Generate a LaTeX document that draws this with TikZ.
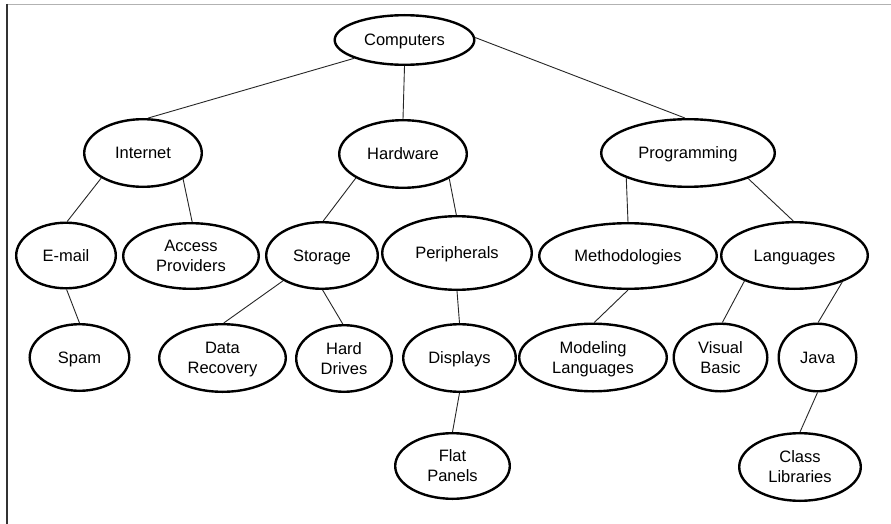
\documentclass[tikz,border=0pt]{standalone}
\usepackage{fontspec}
\setmainfont{Liberation Sans}
\usetikzlibrary{shapes.geometric}

\tikzset{
  topic/.style={ellipse, draw=black, line width=2.4pt, fill=white, inner sep=0pt,
    align=center, font=\fontsize{16.5}{20}\selectfont,
    text height=11.8pt, text depth=0.3pt},
  % two-line labels: cap height of the first line plus one line of spacing
  pair/.style={text height=31.8pt, text depth=0.3pt},
  % size of a topic ellipse from its half axes
  axes/.style 2 args={minimum width={2*#1 pt-2.4pt}, minimum height={2*#2 pt-2.4pt}},
  link/.style={draw=black!85, line width=0.9pt},
}

\begin{document}
\begin{tikzpicture}[x=1pt,y=-1pt]
  \useasboundingbox (0,0) rectangle (891,524);
  \fill[white] (0,0) rectangle (891,524);

  % window edge
  \draw[black!30, line width=1.4pt] (7,4.5) -- (891,4.5);
  \draw[black!80, line width=1.6pt] (7,4) -- (7,524);

  % level 0
  \node[topic, axes={71}{26}] (comp) at (404.5,40) {Computers};
  % level 1
  \node[topic, axes={60}{35}] (inet) at (143,153) {Internet};
  \node[topic, axes={65}{35}] (hard) at (403,154) {Hardware};
  \node[topic, axes={88}{35}] (prog) at (688,153) {Programming};
  % level 2
  \node[topic, axes={51}{34}] (mail) at (66,255.5) {E-mail};
  \node[topic, pair, axes={69}{34}] (acc) at (191,256) {Access\\Providers};
  \node[topic, axes={57}{34.5}] (stor) at (322,255.5) {Storage};
  \node[topic, axes={76}{38}] (peri) at (457,253) {Peripherals};
  \node[topic, axes={90}{34}] (meth) at (628,256) {Methodologies};
  \node[topic, axes={74.5}{34.5}] (lang) at (794.5,255.5) {Languages};
  % level 3
  \node[topic, axes={51}{34.5}] (spam) at (79.5,357.5) {Spam};
  \node[topic, pair, axes={64.5}{35}] (drec) at (222.5,358) {Data\\Recovery};
  \node[topic, pair, axes={49}{34.5}] (hdd) at (344,358.5) {Hard\\Drives};
  \node[topic, axes={57.5}{35}] (disp) at (459.5,358) {Displays};
  \node[topic, pair, axes={75}{35}] (model) at (593,357.5) {Modeling\\Languages};
  \node[topic, pair, axes={48}{35}] (vb) at (720.5,357.5) {Visual\\Basic};
  \node[topic, axes={40}{35}] (java) at (817.5,357.5) {Java};
  % level 4
  \node[topic, pair, axes={58.5}{34}] (flat) at (452.5,466) {Flat\\Panels};
  \node[topic, pair, axes={62}{35}] (clib) at (800,467) {Class\\Libraries};

  % connectors
  \draw[link] (comp.200) -- (inet.82);
  \draw[link] (comp.270) -- (hard.90);
  \draw[link] (comp.2) -- (prog.95);

  \draw[link] (inet.211) -- (mail.88);
  \draw[link] (inet.327) -- (acc.88);
  \draw[link] (hard.207) -- (stor.88);
  \draw[link] (hard.332) -- (peri.91);
  \draw[link] (prog.202) -- (meth.90);
  \draw[link] (prog.337) -- (lang.92);

  \draw[link] (mail.271) -- (spam.90);
  \draw[link] (stor.213) -- (drec.88);
  \draw[link] (stor.271) -- (hdd.92);
  \draw[link] (peri.270) -- (disp.90);
  \draw[link] (meth.270) -- (model.88);
  \draw[link] (lang.207) -- (vb.87);
  \draw[link] (lang.331) -- (java.89);

  \draw[link] (disp.270) -- (flat.90);
  \draw[link] (java.270) -- (clib.90);
\end{tikzpicture}
\end{document}
